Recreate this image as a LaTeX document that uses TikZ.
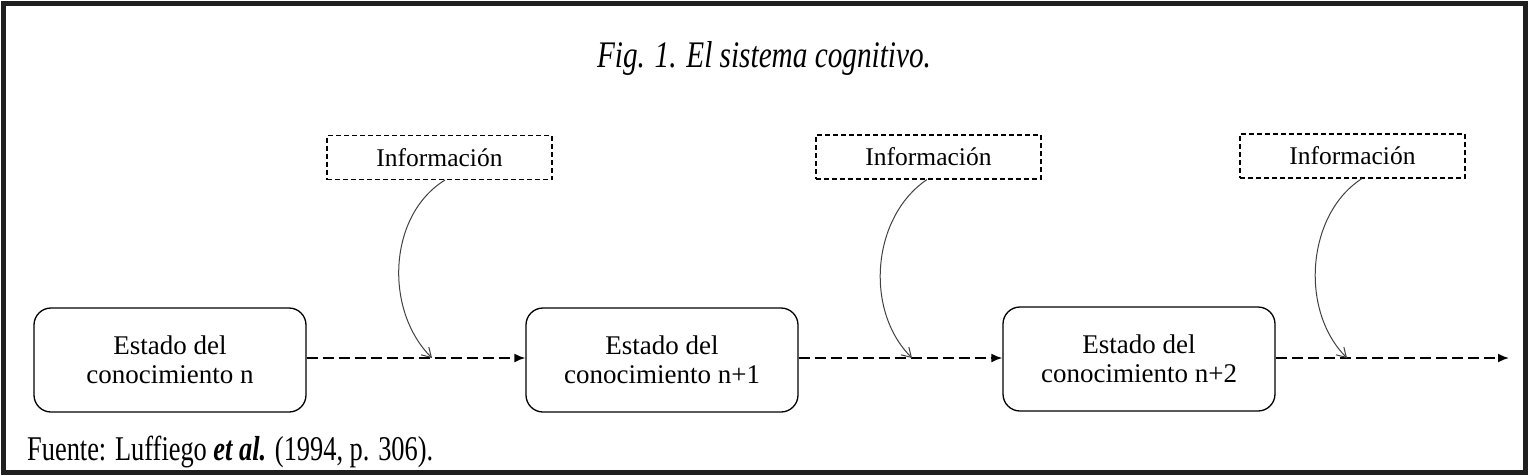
\documentclass[tikz,border=0pt]{standalone}
\usepackage{fontspec}
\setmainfont{Liberation Serif}
\usetikzlibrary{arrows.meta}
\begin{document}
\begin{tikzpicture}[x=1pt,y=-1pt,
  statebox/.style={draw=black, line width=1.3pt, rounded corners=17pt,
    minimum width=272pt, minimum height=104pt, align=center,
    font=\fontsize{27}{29.5}\selectfont, inner sep=0pt},
  infobox/.style={draw=black, line width=1.1pt, dash pattern=on 5pt off 3pt,
    minimum width=225pt, minimum height=44pt, inner sep=0pt,
    font=\fontsize{25.5}{28}\selectfont},
  flow/.style={line width=1.8pt, dash pattern=on 11pt off 5pt,
    -{Latex[length=11pt,width=9pt]}},
  feed/.style={line width=1pt, draw=black!75, -{Straight Barb[length=9pt,width=11pt]}},
  frame/.style={line width=5pt, draw=black!88}
]
\useasboundingbox (0,0) rectangle (1529,475);
\draw[frame] (3.5,3.5) rectangle (1525.5,472.5);

\node[font=\fontsize{37.5}{40}\selectfont\itshape, anchor=base, inner sep=0pt] (title) at (764,67)
  {\scalebox{0.78}[1]{Fig. 1. El sistema cognitivo.}};

\node[infobox] (info1) at (439.5,157.5) {Información};
\node[infobox] (info2) at (928.5,157) {Información};
\node[infobox] (info3) at (1352.5,156) {Información};

\node[statebox] (s1) at (170,360) {Estado del\\conocimiento n};
\node[statebox] (s2) at (662,360) {Estado del\\conocimiento n+1};
\node[statebox] (s3) at (1139,359) {Estado del\\conocimiento n+2};

\coordinate (end) at (1509,358);
\coordinate (j1) at (432,358);
\coordinate (j2) at (912,358);
\coordinate (j3) at (1347,358);

\draw[flow] (s1.east |- j1) -- (s2.west |- j1);
\draw[flow] (s2.east |- j2) -- (s3.west |- j2);
\draw[flow] (s3.east |- end) -- (end);

\draw[feed] ([xshift=5.5pt]info1.south) .. controls +(-57,35) and +(-48,-48) .. (j1);
\draw[feed] ([xshift=-1.5pt]info2.south) .. controls +(-55,37) and +(-48,-48) .. (j2);
\draw[feed] ([xshift=9.5pt]info3.south) .. controls +(-55,35) and +(-48,-48) .. (j3);

\node[anchor=base west, inner sep=0pt, font=\fontsize{34.7}{37}\selectfont] (src) at (27,460)
  {\scalebox{0.76}[1]{Fuente: Luffiego \textbf{\textit{et al.}} (1994, p. 306).}};
\end{tikzpicture}
\end{document}
